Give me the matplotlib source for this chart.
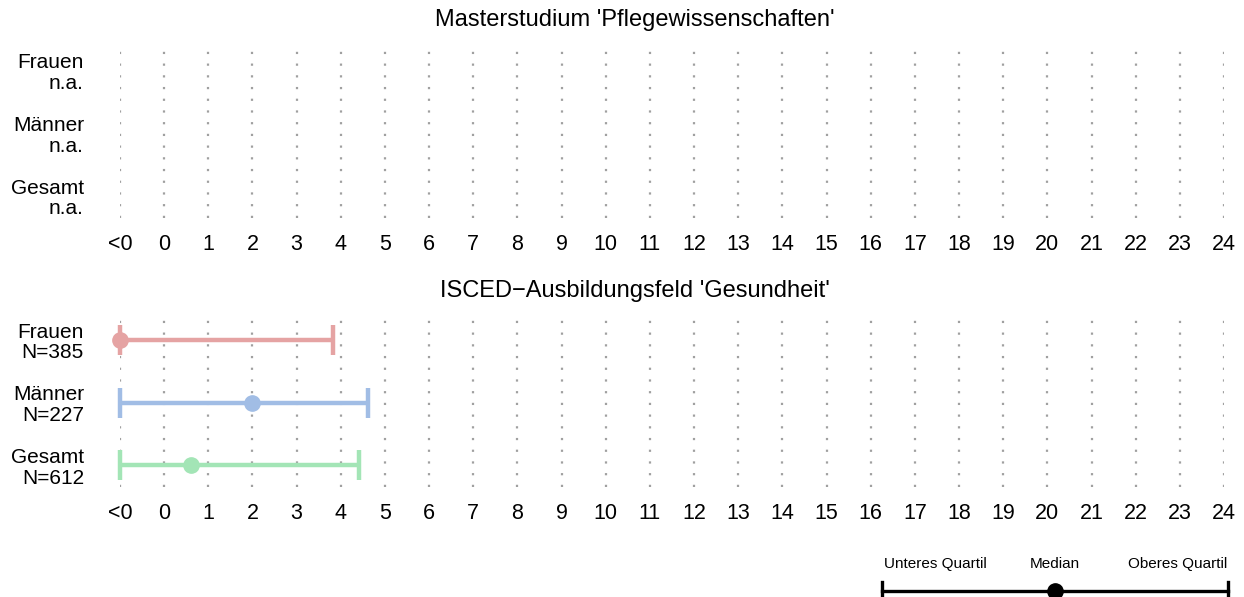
import matplotlib
matplotlib.use("Agg")
import matplotlib.pyplot as plt

plt.rcParams["font.family"] = ["Liberation Sans", "DejaVu Sans"]

# data
groups = ["Frauen", "Männer", "Gesamt"]
colors = ["#e5a3a3", "#a1bde5", "#a3e5b6"]
tick_values = list(range(-1, 25))
tick_labels = ["<0"] + [str(v) for v in range(0, 25)]

panel_titles = ["Masterstudium 'Pflegewissenschaften'",
                "ISCED\u2212Ausbildungsfeld 'Gesundheit'"]
panel_n = [["n.a.", "n.a.", "n.a."],
           ["N=385", "N=227", "N=612"]]
# lower quartile, median, upper quartile (-1 means "<0")
lower_q = [None, [-1, -1, -1]]
median = [None, [-1, 2.0, 0.6]]
upper_q = [None, [3.82, 4.62, 4.42]]

W, H = 1244, 597
fig = plt.figure(figsize=(W / 100, H / 100), dpi=100)


def px_axes(x0, y0, x1, y1):
    return fig.add_axes([x0 / W, 1 - y1 / H, (x1 - x0) / W, (y1 - y0) / H])


panel_px = [(48, 218), (318, 487)]
title_y = [20, 291]

for p in range(2):
    y0, y1 = panel_px[p]
    ax = px_axes(120, y0, 1224, y1)
    ax.set_xlim(-1, 24)
    ax.set_ylim(2.35, -0.35)
    for v in tick_values:
        ax.axvline(v, color="#a0a0a0", lw=1.6, ls=(0, (1, 4.27)), zorder=0)
    for s in ax.spines.values():
        s.set_visible(False)
    ax.set_xticks(tick_values)
    ax.set_xticklabels(tick_labels, fontsize=15.5)
    ax.tick_params(length=0, pad=11.5)
    ax.set_yticks(range(3))
    ax.set_yticklabels([f"{g}\n{n}" for g, n in zip(groups, panel_n[p])],
                       fontsize=15, linespacing=1.1)
    ax.tick_params(axis="y", pad=26)
    fig.text(635 / W, 1 - title_y[p] / H, panel_titles[p], ha="center",
             va="center", fontsize=17)
    if lower_q[p] is not None:
        for i in range(3):
            lo, md, hi = lower_q[p][i], median[p][i], upper_q[p][i]
            ax.errorbar([md], [i], xerr=[[md - lo], [hi - md]], fmt="none",
                        ecolor=colors[i], elinewidth=3.2, capsize=11,
                        capthick=3.2, clip_on=False, zorder=3)
            ax.plot([md], [i], "o", color=colors[i], ms=11, clip_on=False,
                    zorder=4)

# legend
lg = px_axes(882, 540, 1228, 597)
lg.set_xlim(0, 1)
lg.set_ylim(597, 540)
lg.axis("off")
lg.plot([0, 1], [591, 591], color="black", lw=2.4, clip_on=False)
lg.plot([0, 0], [582, 600], color="black", lw=2.4, clip_on=False)
lg.plot([1, 1], [582, 600], color="black", lw=2.4, clip_on=False)
lg.plot([0.5], [591], "o", color="black", ms=11, clip_on=False)
lg.text(0.153, 564, "Unteres Quartil", ha="center", va="center", fontsize=11)
lg.text(0.5, 564, "Median", ha="center", va="center", fontsize=11)
lg.text(0.855, 564, "Oberes Quartil", ha="center", va="center", fontsize=11)

fig.savefig("out.png", dpi=100)
